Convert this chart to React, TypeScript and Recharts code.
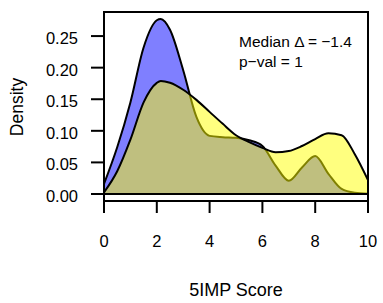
import React from 'react';
import {
  ComposedChart, Area, XAxis, YAxis, ReferenceArea, ReferenceLine, Customized
} from 'recharts';

// --- DATA ---
const scores = [0, 0.5, 1, 1.5, 2, 2.15, 2.5, 3, 3.5, 4, 4.5, 5, 5.5, 6, 6.5, 7, 7.5, 8, 8.5, 9, 9.5, 10];
const blueDensity = [0.016, 0.074, 0.145, 0.232, 0.275, 0.277, 0.26, 0.196, 0.122, 0.092, 0.090, 0.089, 0.085, 0.076, 0.045, 0.021, 0.042, 0.060, 0.032, 0.008, 0.002, 0.0005];
const yellowDensity = [0.0025, 0.036, 0.086, 0.145, 0.176, 0.179, 0.176, 0.165, 0.149, 0.130, 0.111, 0.093, 0.082, 0.073, 0.066, 0.068, 0.076, 0.087, 0.096, 0.093, 0.063, 0.022];
const xTicks = [0, 2, 4, 6, 8, 10];
const yTicks = [0, 0.05, 0.1, 0.15, 0.2, 0.25];

const annotationLines = ['Median Δ = −1.4', 'p−val = 1'];
const xTitle = '5IMP Score';
const yTitle = 'Density';

const Y_MIN = -0.0111;
const Y_MAX = 0.2881;
const FONT = '"Liberation Sans", Arial, Helvetica, sans-serif';

const data = scores.map((x, i) => ({ x, blue: blueDensity[i], yellow: yellowDensity[i] }));

// titles + the median / p-value note
const Labels = () => (
  <g fontFamily={FONT} fill="#000">
    {annotationLines.map((line, i) => (
      <text key={line} x={239} y={47 + i * 20} fontSize={15.5}>{line}</text>
    ))}
    <text x={236} y={296} fontSize={18} textAnchor="middle">{xTitle}</text>
    <text transform="translate(23,107) rotate(-90)" fontSize={17.5} textAnchor="middle">{yTitle}</text>
  </g>
);

export default function App() {
  return (
    <div style={{ position: 'absolute', left: 0, top: 0, width: 383, height: 303, background: '#fff' }}>
      <ComposedChart
        width={383}
        height={303}
        data={data}
        margin={{ top: 12, right: 15, bottom: 62, left: 0 }}
        style={{ fontFamily: FONT }}
      >
        <XAxis
          type="number"
          dataKey="x"
          domain={[0, 10]}
          ticks={xTicks}
          height={40}
          axisLine={false}
          tickLine={{ stroke: '#000', strokeWidth: 2 }}
          tickSize={12}
          tickMargin={22}
          tick={{ fill: '#000', fontSize: 16.5 }}
        />
        <YAxis
          type="number"
          domain={[Y_MIN, Y_MAX]}
          allowDataOverflow
          ticks={yTicks}
          width={104}
          axisLine={false}
          tickLine={{ stroke: '#000', strokeWidth: 2 }}
          tickSize={13}
          tickMargin={13}
          tickFormatter={(v: number) => v.toFixed(2)}
          tick={{ fill: '#000', fontSize: 16.5, dy: 2 }}
        />
        <Area
          type="monotone"
          dataKey="blue"
          baseValue={0}
          fill="#0000ff"
          fillOpacity={0.5}
          stroke="#000"
          strokeWidth={2}
          dot={false}
          activeDot={false}
          isAnimationActive={false}
        />
        <Area
          type="monotone"
          dataKey="yellow"
          baseValue={0}
          fill="#ffff00"
          fillOpacity={0.5}
          stroke="#000"
          strokeWidth={2}
          dot={false}
          activeDot={false}
          isAnimationActive={false}
        />
        <ReferenceLine y={0} stroke="#000" strokeWidth={2} />
        <ReferenceArea x1={0} x2={10} y1={Y_MIN} y2={Y_MAX} fill="none" stroke="#000" strokeWidth={2} ifOverflow="visible" />
        <Customized component={Labels} />
      </ComposedChart>
    </div>
  );
}
